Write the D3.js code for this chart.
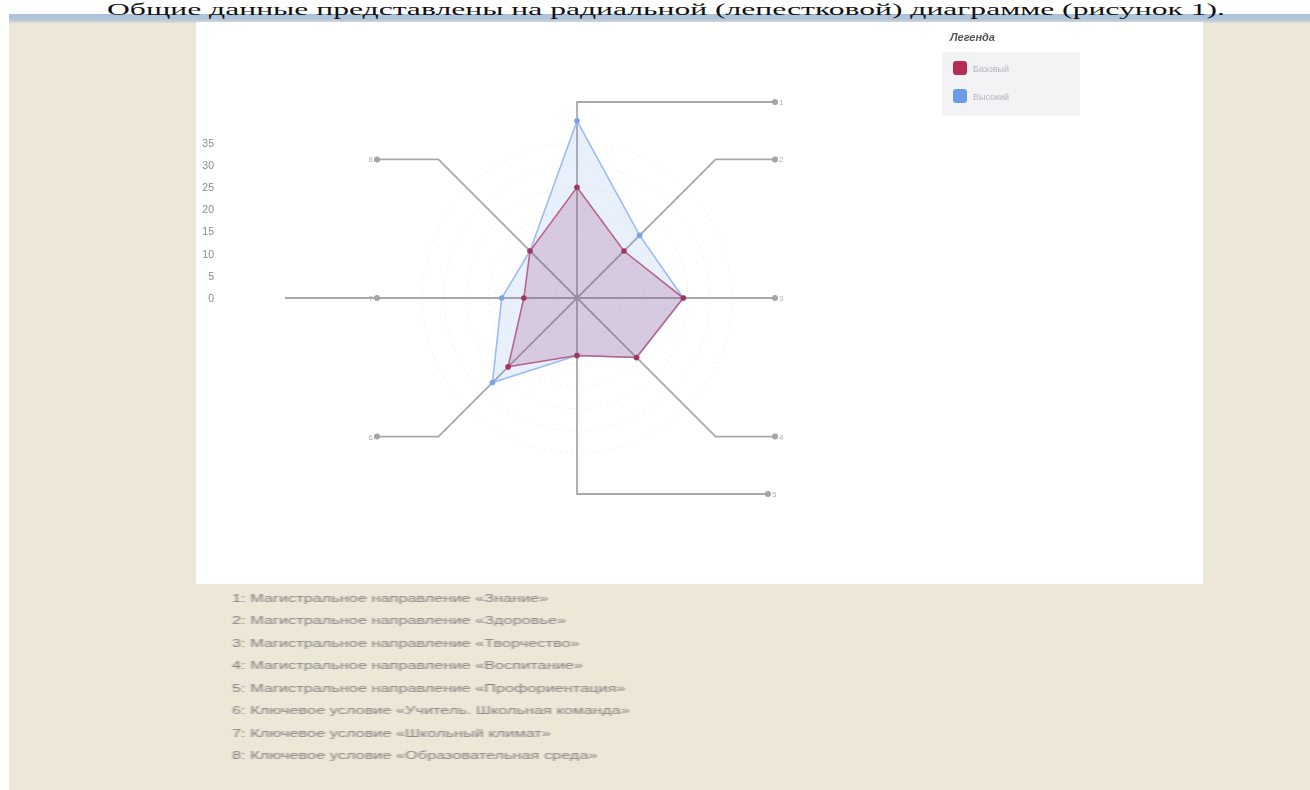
<!DOCTYPE html>
<html><head><meta charset="utf-8">
<script src="https://cdn.jsdelivr.net/npm/d3@7"></script>
<style>body{margin:0;background:#fff;} svg{display:block;}</style>
</head><body><svg id="c" width="1310" height="790"></svg>
<script>
const axisLabels = ["1","2","3","4","5","6","7","8"];
const baseValues = [25,15,24,19,13,22,12,15];
const highValues = [40,20,24,19,13,27,17,15];
const yTicks = [0,5,10,15,20,25,30,35];
const seriesNames = ["Базовый","Высокий"];
const descriptions = [
"1: Магистральное направление «Знание»",
"2: Магистральное направление «Здоровье»",
"3: Магистральное направление «Творчество»",
"4: Магистральное направление «Воспитание»",
"5: Магистральное направление «Профориентация»",
"6: Ключевое условие «Учитель. Школьная команда»",
"7: Ключевое условие «Школьный климат»",
"8: Ключевое условие «Образовательная среда»"];
const headerText = "Общие данные представлены на радиальной (лепестковой) диаграмме (рисунок 1).";
const legendTitle = "Легенда";

const svg = d3.select("#c");
const defs = svg.append("defs");
const bandG = defs.append("linearGradient").attr("id","band").attr("x1",0).attr("y1",0).attr("x2",0).attr("y2",1);
bandG.append("stop").attr("offset","0%").attr("stop-color","#a8c0dc");
bandG.append("stop").attr("offset","60%").attr("stop-color","#b4c6da");
bandG.append("stop").attr("offset","100%").attr("stop-color","#dcdcd4");
const gridG = defs.append("linearGradient").attr("id","gridfade").attr("x1",0).attr("y1",0).attr("x2",1).attr("y2",0);
gridG.append("stop").attr("offset","0%").attr("stop-color","#e4e4e4");
gridG.append("stop").attr("offset","60%").attr("stop-color","#eeeeee");
gridG.append("stop").attr("offset","100%").attr("stop-color","#ffffff");
const blurF = defs.append("filter").attr("id","soft").attr("x","-5%").attr("y","-5%").attr("width","110%").attr("height","110%");
blurF.append("feGaussianBlur").attr("stdDeviation",0.6);

// page background
svg.append("rect").attr("x",0).attr("y",0).attr("width",1310).attr("height",790).attr("fill","#ffffff");
svg.append("rect").attr("x",9).attr("y",14).attr("width",1301).attr("height",776).attr("fill","#ede7d7");
svg.append("rect").attr("x",9).attr("y",14).attr("width",1301).attr("height",9).attr("fill","url(#band)");
// white panel
svg.append("rect").attr("x",196).attr("y",22).attr("width",1007).attr("height",562).attr("fill","#ffffff").attr("filter","url(#soft)");

// header text
svg.append("text").attr("x",107).attr("y",15)
  .attr("font-family","'Liberation Serif','Times New Roman',serif").attr("font-size",16)
  .attr("fill","#111").attr("textLength",1118).attr("lengthAdjust","spacingAndGlyphs")
  .text(headerText);

const g = svg.append("g").attr("filter","url(#soft)");

// y axis with gridlines
const y = d3.scaleLinear().domain([0,35]).range([298,143]);
g.append("g").selectAll("line").data(yTicks).join("line")
  .attr("x1",228).attr("x2",470).attr("y1",d=>y(d)).attr("y2",d=>y(d))
  .attr("stroke","url(#gridfade)").attr("stroke-width",1.2);
const yAxis = d3.axisLeft(y).tickValues(yTicks).tickSize(0).tickPadding(0);
const ya = g.append("g").attr("transform","translate(214,0)").call(yAxis);
ya.select(".domain").remove();
ya.selectAll("text").attr("font-family","'Liberation Sans',Arial,sans-serif").attr("font-size",10.5).attr("fill","#8a8a8a");

// radar
const cx = 577, cy = 298;
const r = d3.scaleLinear().domain([0,35]).range([0,155]);
const angle = d3.scalePoint().domain(axisLabels).range([0, 2*Math.PI*7/8]);
const radar = g.append("g").attr("transform",`translate(${cx},${cy})`);

// dotted circles
radar.append("g").selectAll("circle").data(yTicks.filter(d=>d>0)).join("circle")
  .attr("r",d=>r(d)).attr("fill","none").attr("stroke","#eee4e4").attr("stroke-width",1)
  .attr("stroke-dasharray","1.5,4");

// leader lines
const L = 196;
const sideX = [775,775,775,775,768,377,377,377];
const leaders = radar.append("g");
axisLabels.forEach((lab,i)=>{
  const a = angle(lab);
  const ex = L*Math.sin(a), ey = -L*Math.cos(a);
  const tx = sideX[i]-cx;
  const pts = [[0,0],[ex,ey],[tx,ey]];
  if (i===6) pts.push([285-cx,ey]);
  leaders.append("path").attr("d",d3.line()(pts)).attr("fill","none")
    .attr("stroke","#a9a9a9").attr("stroke-width",1.8);
  leaders.append("circle").attr("cx",tx).attr("cy",ey).attr("r",3).attr("fill","#a4a4a4");
  const right = tx>0;
  leaders.append("text").attr("x",tx+(right?4:-4)).attr("y",ey+3)
    .attr("text-anchor",right?"start":"end")
    .attr("font-family","'Liberation Sans',Arial,sans-serif").attr("font-size",8)
    .attr("fill","#b0b0b0").text(lab);
});

const line = d3.lineRadial().angle((d,i)=>angle(axisLabels[i])).radius(d=>r(d)).curve(d3.curveLinearClosed);
// high series
radar.append("path").attr("d",line(highValues)).attr("fill","rgba(120,160,235,0.16)")
  .attr("stroke","#9bbcf0").attr("stroke-width",1.6);
// base series
radar.append("path").attr("d",line(baseValues)).attr("fill","rgba(140,50,110,0.2)")
  .attr("stroke","#b56690").attr("stroke-width",1.6);
const pt = (v,i)=>{const a=angle(axisLabels[i]);return [r(v)*Math.sin(a), -r(v)*Math.cos(a)];};
radar.append("g").selectAll("circle").data(highValues).join("circle")
  .attr("cx",(d,i)=>pt(d,i)[0]).attr("cy",(d,i)=>pt(d,i)[1]).attr("r",2.8).attr("fill","#7ba3e6");
radar.append("g").selectAll("circle").data(baseValues).join("circle")
  .attr("cx",(d,i)=>pt(d,i)[0]).attr("cy",(d,i)=>pt(d,i)[1]).attr("r",2.8).attr("fill","#a3365f");
radar.append("circle").attr("r",3).attr("fill","#9a8fa0");

// legend
const lg = g.append("g");
lg.append("text").attr("x",950).attr("y",41).attr("font-family","'Liberation Sans',Arial,sans-serif")
  .attr("font-size",11).attr("font-weight","bold").attr("font-style","italic").attr("fill","#555")
  .text(legendTitle);
lg.append("rect").attr("x",942).attr("y",52).attr("width",138).attr("height",64).attr("fill","#f3f3f5");
const legColors = ["#b32d55","#6c9be6"];
seriesNames.forEach((n,i)=>{
  lg.append("rect").attr("x",953).attr("y",61+i*28).attr("width",14).attr("height",14).attr("rx",3).attr("fill",legColors[i]);
  lg.append("text").attr("x",973).attr("y",72+i*28).attr("font-family","'Liberation Sans',Arial,sans-serif")
    .attr("font-size",9).attr("fill","#b4b4bc").text(n);
});

// descriptions
const dg = svg.append("g").attr("filter","url(#soft)");
const dt = dg.selectAll("text").data(descriptions).join("text")
  .attr("x",0).attr("y",(d,i)=>602+i*22.5)
  .attr("font-family","'Liberation Sans',Arial,sans-serif").attr("font-size",11)
  .attr("fill","#7e7e7e").text(d=>d);
const ref = dt.nodes()[4].getComputedTextLength();
const sx = 394/ref;
dg.attr("transform",`translate(232,0) scale(${sx},1)`);
</script></body></html>
